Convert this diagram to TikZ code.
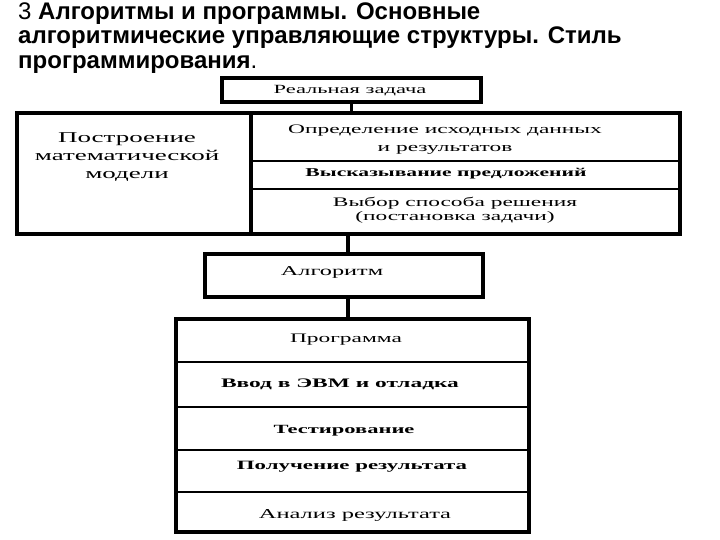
\documentclass[tikz,border=0pt]{standalone}
\usepackage{fontspec}
\setmainfont{Liberation Serif}
\newfontfamily\titlefont{Liberation Sans}
\newfontfamily\boxfont[FakeStretch=1.8]{Liberation Serif}
\begin{document}
\begin{tikzpicture}[x=1pt,y=-1pt,
  cell/.style={draw, line width=2pt, rectangle, inner sep=0pt},
  frame/.style={line width=3.5pt, line cap=rect},
  conn/.style={line width=3.5pt},
  lbl/.style={inner sep=0pt, align=center, font=\boxfont\fontsize{12}{15}\selectfont},
  ttl/.style={inner sep=0pt, anchor=base west, font=\titlefont\fontsize{24}{26}\selectfont}
]
\useasboundingbox[fill=white] (0,0) rectangle (720,540);
% title
\node[ttl] (t1) at (18,19.5) {3 \textbf{Алгоритмы и программы. Основные}};
\node[ttl] (t2) at (18,44) {\textbf{алгоритмические управляющие структуры. Стиль}};
\node[ttl] (t3) at (18,68.5) {\textbf{программирования}.};
% top box
\node[cell, frame, minimum width=259pt, minimum height=24pt] (real) at (351.5,90) {};
\node[lbl, font=\boxfont\fontsize{12.5}{14}\selectfont] (reallbl) at (350,91) {Реальная задача};
% model block
\node[cell, minimum width=232pt, minimum height=119pt] (model) at (134,173.5) {};
\node[cell, minimum width=429pt, minimum height=47pt] (r1) at (464.5,137.5) {};
\node[cell, minimum width=429pt, minimum height=28pt] (r2) at (464.5,175) {};
\node[cell, minimum width=429pt, minimum height=44pt] (r3) at (464.5,211) {};
\draw[frame] (model.north west) rectangle (r3.south east);
\draw[line width=3.5pt] (model.north east) -- (model.south east);
\node[lbl, font=\boxfont\fontsize{15}{18}\selectfont] (modellbl) at (127,157) {Построение\\математической\\модели};
\node[lbl, font=\boxfont\fontsize{13}{18}\selectfont] (r1lbl) at (445,140) {Определение исходных данных\\и результатов};
\node[lbl, font=\boxfont\bfseries\fontsize{12}{15}\selectfont] (r2lbl) at (446,174) {Высказывание предложений};
\node[lbl, font=\boxfont\fontsize{13}{14.5}\selectfont] (r3lbl) at (455,210) {Выбор способа решения\\(постановка задачи)};
% algorithm
\node[cell, frame, minimum width=278pt, minimum height=43pt] (algo) at (344,275.5) {};
\node[lbl, font=\boxfont\fontsize{13.5}{15}\selectfont] (algolbl) at (332,272) {Алгоритм};
% program block
\node[cell, minimum width=351pt, minimum height=41.5pt] (p1) at (352.5,340.75) {};
\node[cell, minimum width=351pt, minimum height=45.5pt] (p2) at (352.5,384.25) {};
\node[cell, minimum width=351pt, minimum height=43pt] (p3) at (352.5,428.5) {};
\node[cell, minimum width=351pt, minimum height=42pt] (p4) at (352.5,471) {};
\node[cell, minimum width=351pt, minimum height=39pt] (p5) at (352.5,511.5) {};
\draw[frame] (p1.north west) rectangle (p5.south east);
\node[lbl, font=\boxfont\fontsize{13}{15}\selectfont] (p1lbl) at (346,340) {Программа};
\node[lbl, font=\boxfont\bfseries\fontsize{13}{15}\selectfont] (p2lbl) at (340,384) {Ввод в ЭВМ и отладка};
\node[lbl, font=\boxfont\bfseries\fontsize{12.5}{15}\selectfont] (p3lbl) at (344,431) {Тестирование};
\node[lbl, font=\boxfont\bfseries\fontsize{12.7}{15}\selectfont] (p4lbl) at (352,467) {Получение результата};
\node[lbl, font=\boxfont\fontsize{13.6}{15}\selectfont] (p5lbl) at (355,515) {Анализ результата};
% connectors
\draw[conn] (real.south) -- (real.south |- r1.north);
\draw[conn] ([xshift=4pt]algo.north |- r3.south) -- ([xshift=4pt]algo.north);
\draw[conn] ([xshift=4pt]algo.south) -- ([xshift=4pt]algo.south |- p1.north);
\end{tikzpicture}
\end{document}
